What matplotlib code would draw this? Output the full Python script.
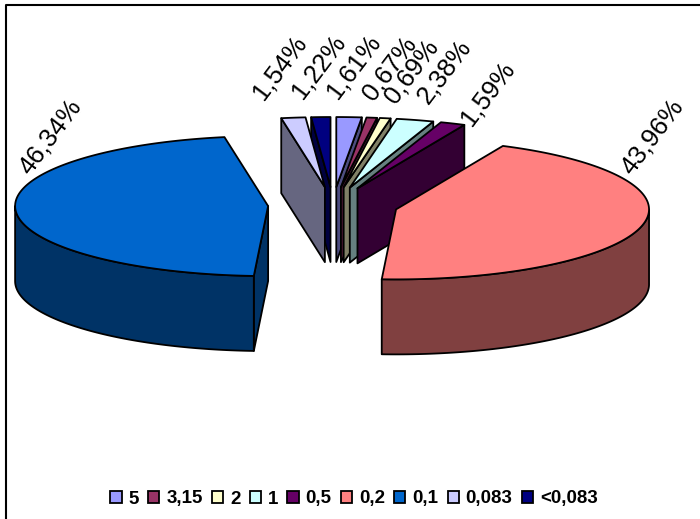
#!/usr/bin/env python3
import numpy as np
import matplotlib
matplotlib.use('Agg')
import matplotlib.pyplot as plt
from matplotlib.patches import Polygon, Patch

plt.rcParams['font.family'] = ['Liberation Sans', 'DejaVu Sans']

categories = ['5', '3,15', '2', '1', '0,5', '0,2', '0,1', '0,083', '<0,083']
shares = [1.61, 0.67, 0.69, 2.38, 1.59, 43.96, 46.34, 1.54, 1.22]
labels = ['1,61%', '0,67%', '0,69%', '2,38%', '1,59%', '43,96%', '46,34%', '1,54%', '1,22%']
colors = ['#9999FF', '#993366', '#FFFFCC', '#CCFFFF', '#660066',
          '#FF8080', '#0066CC', '#CCCCFF', '#000080']

# pie geometry, in pixels
CX, CY = 333, 205
RX, RY = 253, 70
EXPLODE = 65
DEPTH = 75

# label centres, in pixels
label_pos = [(354, 67), (390, 69), (412, 72), (444, 72), (488, 93),
             (652, 137), (50, 137), (280, 67), (319, 67)]

# back to front
draw_order = [8, 7, 6, 0, 1, 2, 3, 4, 5]


def shade(c):
    return tuple(v * 0.5 for v in matplotlib.colors.to_rgb(c))


def point(apex, deg):
    a = np.radians(deg)
    return apex[0] + RX * np.sin(a), apex[1] - RY * np.cos(a)


def arc(apex, a0, a1):
    n = max(int(a1 - a0), 2) + 1
    return [point(apex, d) for d in np.linspace(a0, a1, n)]


def drop(pts):
    return [(x, y + DEPTH) for x, y in pts]


def face(ax, pts, color):
    ax.add_patch(Polygon(pts, closed=True, facecolor=color, edgecolor='black',
                         linewidth=1.3, joinstyle='round'))


def draw_slice(ax, a0, a1, color):
    mid = np.radians((a0 + a1) / 2)
    apex = (CX + EXPLODE * np.sin(mid), CY - EXPLODE * RY / RX * np.cos(mid))
    dark = shade(color)

    # cut faces that look towards the viewer
    if a0 >= 180:
        p = point(apex, a0)
        face(ax, [apex, p] + drop([p, apex]), dark)
    if a1 <= 180:
        p = point(apex, a1)
        face(ax, [apex, p] + drop([p, apex]), dark)

    # outer wall, only the front half of the rim
    lo, hi = max(a0, 90), min(a1, 270)
    if lo < hi:
        rim = arc(apex, lo, hi)
        face(ax, rim + drop(rim)[::-1], dark)

    face(ax, [apex] + arc(apex, a0, a1), color)


def main():
    fig = plt.figure(figsize=(7.0, 5.19), dpi=100)
    ax = fig.add_axes([0, 0, 1, 1])
    ax.set_xlim(0, 700)
    ax.set_ylim(519, 0)
    ax.axis('off')

    # chart frame runs off the right and bottom edges
    ax.plot([6, 6, 720], [530, 4.5, 4.5], color='black', linewidth=1.5)

    edges = np.concatenate([[0], np.cumsum(shares)]) / np.sum(shares) * 360
    for i in draw_order:
        draw_slice(ax, edges[i], edges[i + 1], colors[i])

    for txt, (x, y) in zip(labels, label_pos):
        ax.text(x, y, txt, fontsize=18.5, rotation=53, ha='center', va='center',
                color='black')

    handles = [Patch(facecolor=c, edgecolor='black', linewidth=1.3) for c in colors]
    ax.legend(handles, categories, ncol=len(categories), loc='center',
              bbox_to_anchor=(354, 499), bbox_transform=ax.transData,
              frameon=False, handlelength=0.6, handleheight=0.6,
              handletextpad=0.36, columnspacing=0.5, borderpad=0,
              prop={'weight': 'bold', 'size': 13.5})

    fig.savefig('out.png', dpi=100)


if __name__ == '__main__':
    main()
